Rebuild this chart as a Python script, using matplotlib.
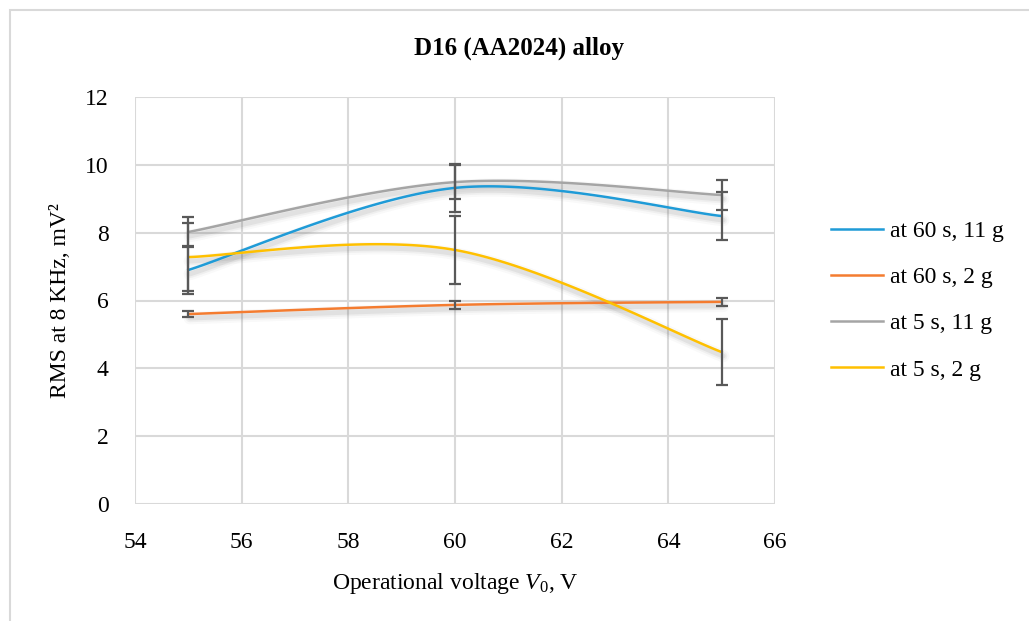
import numpy as np
import matplotlib.pyplot as plt
import matplotlib.transforms as mtransforms
from matplotlib.patches import Rectangle

plt.rcParams['font.family'] = ['Liberation Serif', 'DejaVu Serif']
plt.rcParams['mathtext.fontset'] = 'custom'
plt.rcParams['mathtext.rm'] = 'Liberation Serif'
plt.rcParams['mathtext.it'] = 'Liberation Serif:italic'

# data
voltage = [55, 60, 65]
series_names = ['at 60 s, 11 g', 'at 60 s, 2 g', 'at 5 s, 11 g', 'at 5 s, 2 g']
rms_60s_11g = [6.90, 9.32, 8.49]
rms_60s_2g = [5.60, 5.87, 5.96]
rms_5s_11g = [8.02, 9.49, 9.11]
rms_5s_2g = [7.28, 7.49, 4.48]
err_60s_11g = [0.70, 0.70, 0.70]
err_60s_2g = [0.10, 0.12, 0.12]
err_5s_11g = [0.44, 0.50, 0.44]
err_5s_2g = [1.00, 1.00, 0.97]
colors = ['#1f9bd7', '#f47c30', '#a5a5a5', '#ffc000']

FS = 17


def smooth(x, y, n=60):
    # Excel-like smoothed line (Catmull-Rom as cubic Bezier)
    x = np.asarray(x, float)
    y = np.asarray(y, float)
    px, py = [], []
    for i in range(len(x) - 1):
        i0 = max(i - 1, 0)
        i3 = min(i + 2, len(x) - 1)
        c1x = x[i] + (x[i + 1] - x[i0]) / 6
        c1y = y[i] + (y[i + 1] - y[i0]) / 6
        c2x = x[i + 1] - (x[i3] - x[i]) / 6
        c2y = y[i + 1] - (y[i3] - y[i]) / 6
        t = np.linspace(0, 1, n)
        a, b, c, d = (1 - t) ** 3, 3 * (1 - t) ** 2 * t, 3 * (1 - t) * t ** 2, t ** 3
        px.extend(a * x[i] + b * c1x + c * c2x + d * x[i + 1])
        py.extend(a * y[i] + b * c1y + c * c2y + d * y[i + 1])
    return np.array(px), np.array(py)


fig = plt.figure(figsize=(10.29, 6.21), dpi=100)
fig.patches.append(Rectangle((10 / 1029, -0.1), 1.2, 1 - 10 / 621 + 0.1,
                             transform=fig.transFigure, fill=False,
                             edgecolor='#d9d9d9', linewidth=1.5))
ax = fig.add_axes([135 / 1029, 1 - 504 / 621, 640 / 1029, 407 / 621])

values = [rms_60s_11g, rms_60s_2g, rms_5s_11g, rms_5s_2g]
errors = [err_60s_11g, err_60s_2g, err_5s_11g, err_5s_2g]

# shadows first
for vals in values:
    sx, sy = smooth(voltage, vals)
    for lw, al in [(9, 0.03), (6, 0.05), (3.5, 0.08)]:
        off = mtransforms.offset_copy(ax.transData, fig=fig, x=1.5, y=-4, units='dots')
        ax.plot(sx, sy, color='#404040', lw=lw, alpha=al, transform=off,
                solid_capstyle='round', zorder=2)

for name, vals, err, col in zip(series_names, values, errors, colors):
    sx, sy = smooth(voltage, vals)
    ax.plot(sx, sy, color=col, lw=1.8, label=name, zorder=3)
    ax.errorbar(voltage, vals, yerr=err, fmt='none', ecolor='#595959',
                elinewidth=1.6, capsize=4.5, capthick=1.6, zorder=4)

ax.set_xlim(54, 66)
ax.set_ylim(0, 12)
ax.set_xticks(range(54, 67, 2))
ax.set_yticks(range(0, 13, 2))
ax.grid(True, color='#d9d9d9', linewidth=1.5)
ax.set_axisbelow(True)
for s in ax.spines.values():
    s.set_visible(False)
ax.tick_params(length=0, labelsize=FS, colors='black')
ax.tick_params(axis='x', pad=20)
ax.tick_params(axis='y', pad=19)

fig.text(519 / 1029, 1 - 48 / 621, 'D16 (AA2024) alloy', fontsize=18,
         fontweight='bold', ha='center', va='center')
ax.set_ylabel('RMS at 8 KHz, mV²', fontsize=FS, labelpad=10)
ax.set_xlabel('Operational voltage $V_0$, V', fontsize=FS, labelpad=13)

leg = ax.legend(loc='center left', bbox_to_anchor=(1.055, 0.5), frameon=False,
                fontsize=FS, handlelength=2.2, handletextpad=0.3,
                labelspacing=1.05)

fig.savefig('out.png', dpi=100)
